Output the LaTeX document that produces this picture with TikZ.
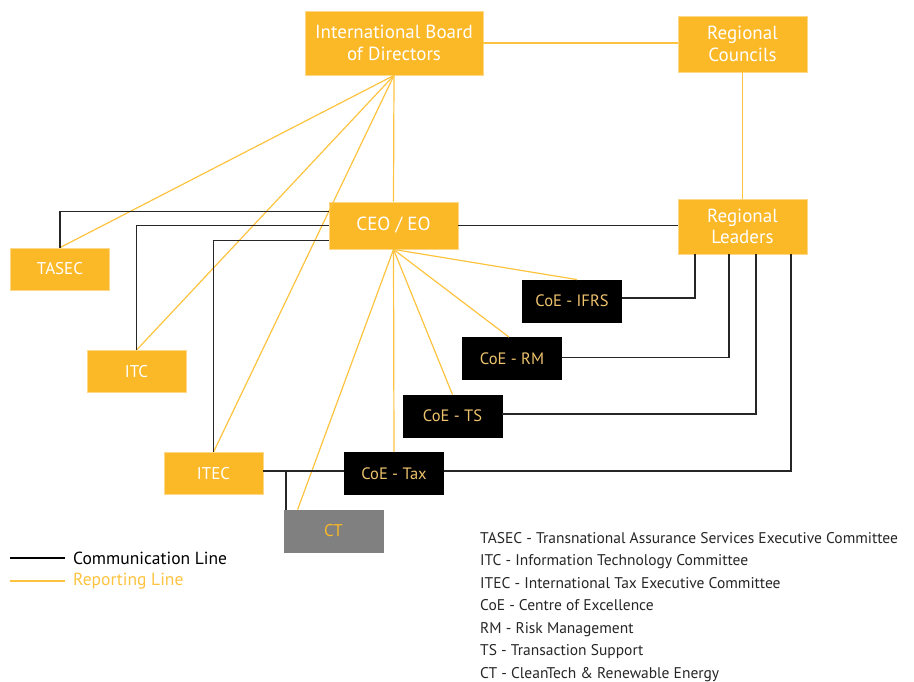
\documentclass[tikz,border=0pt]{standalone}
\usepackage{fontspec}
\setmainfont{PT Sans}
\usepackage{tikz}

\definecolor{eyyellow}{HTML}{FBB827}
\definecolor{repline}{HTML}{FDC33F}
\definecolor{coetext}{HTML}{EEC36E}
\definecolor{ctgrey}{HTML}{808080}

\tikzset{
  unit/.style={fill=eyyellow, draw=eyyellow!55, line width=0.8pt, text=white, align=center,
    inner sep=0pt, minimum width=99pt, minimum height=42pt, font=\fontsize{17}{21}\selectfont},
  bigunit/.style={unit, minimum width=129pt, font=\fontsize{19}{21.5}\selectfont},
  coe/.style={unit, fill=black, draw=black, text=coetext, font=\fontsize{16.5}{20}\selectfont},
  rep/.style={repline, line width=1.2pt},
  com/.style={black!85, line width=1.4pt}
}

\begin{document}
\begin{tikzpicture}[x=1pt, y=-1pt]
\useasboundingbox (0,0) rectangle (914,682);
% top level
\node[bigunit, minimum width=178pt, minimum height=64pt] (ibd) at (394,43) {International Board\\of Directors};
\node[bigunit, minimum height=56pt] (rc) at (742.5,44) {Regional\\Councils};
\node[bigunit, minimum height=47pt] (ceo) at (393.5,225.5) {CEO / EO};
\node[bigunit, minimum height=55pt] (rl) at (742.5,226.5) {Regional\\Leaders};
% committees
\node[unit] (tasec) at (60,269) {TASEC};
\node[unit] (itc) at (136.5,371.5) {ITC};
\node[unit] (itec) at (213.5,473.5) {ITEC};
\node[unit, fill=ctgrey, draw=ctgrey, text=eyyellow] (ct) at (333.5,531) {CT};
% centres of excellence
\node[coe] (ifrs) at (572,301) {CoE - IFRS};
\node[coe] (rm) at (512,358.5) {CoE - RM};
\node[coe] (ts) at (452.5,416) {CoE - TS};
\node[coe] (tax) at (394,473.5) {CoE - Tax};

% reporting lines
\draw[rep] (ibd.east) -- (ibd.east -| rc.west);
\draw[rep] (rc.south) -- (rl.north);
\draw[rep] (ibd.south) -- (ceo.north);
\draw[rep] (ibd.south) -- (tasec.north);
\draw[rep] (ibd.south) -- (itc.north);
\draw[rep] (ibd.south) -- (itec.north);
\draw[rep] (ceo.south) -- ([xshift=5pt]ifrs.north);
\draw[rep] (ceo.south) -- ([xshift=-3pt]rm.north);
\draw[rep] (ceo.south) -- (ts.north);
\draw[rep] (ceo.south) -- (tax.north);
\draw[rep] (ceo.south) -- ([xshift=14pt]ct.north west);

% communication lines
\draw[com] (tasec.north) |- ([yshift=14pt]ceo.west);
\draw[com] (itc.north) |- (ceo.west);
\draw[com] (itec.north) |- ([yshift=-15pt]ceo.west);
\draw[com] (ceo.east) -- (ceo.east -| rl.west);
\draw[com] ([xshift=-47.5pt]rl.south) |- ([yshift=3pt]ifrs.east);
\draw[com] ([xshift=-13.5pt]rl.south) |- ([yshift=1pt]rm.east);
\draw[com] ([xshift=13.5pt]rl.south) |- ([yshift=2pt]ts.east);
\draw[com] ([xshift=48.5pt]rl.south) |- ([yshift=2.5pt]tax.east);
\draw[com] ([yshift=2.5pt]itec.east) -- ([yshift=2.5pt]tax.west);
\coordinate (ctjoin) at (286,471);
\draw[com] (ctjoin) -- (ctjoin |- ct.north);

% legend
\node[anchor=west, inner sep=0pt, font=\fontsize{17.5}{20}\selectfont] (comlbl) at (73,558) {Communication Line};
\node[anchor=west, inner sep=0pt, text=repline, font=\fontsize{17.5}{20}\selectfont] (replbl) at (73,581) {Reporting Line};
\draw[black, line width=1.2pt] ([xshift=-8pt]comlbl.west) -- ++(-55,0);
\draw[rep] ([xshift=-8pt]replbl.west) -- ++(-55,0);

% abbreviations
\node[anchor=north west, inner sep=0pt, align=left, text=black!85,
  font=\fontsize{15.5}{22.5}\selectfont] (abbr) at (480,532) {%
TASEC - Transnational Assurance Services Executive Committee\\
ITC - Information Technology Committee\\
ITEC - International Tax Executive Committee\\
CoE - Centre of Excellence\\
RM - Risk Management\\
TS - Transaction Support\\
CT - CleanTech \& Renewable Energy};
\end{tikzpicture}
\end{document}
